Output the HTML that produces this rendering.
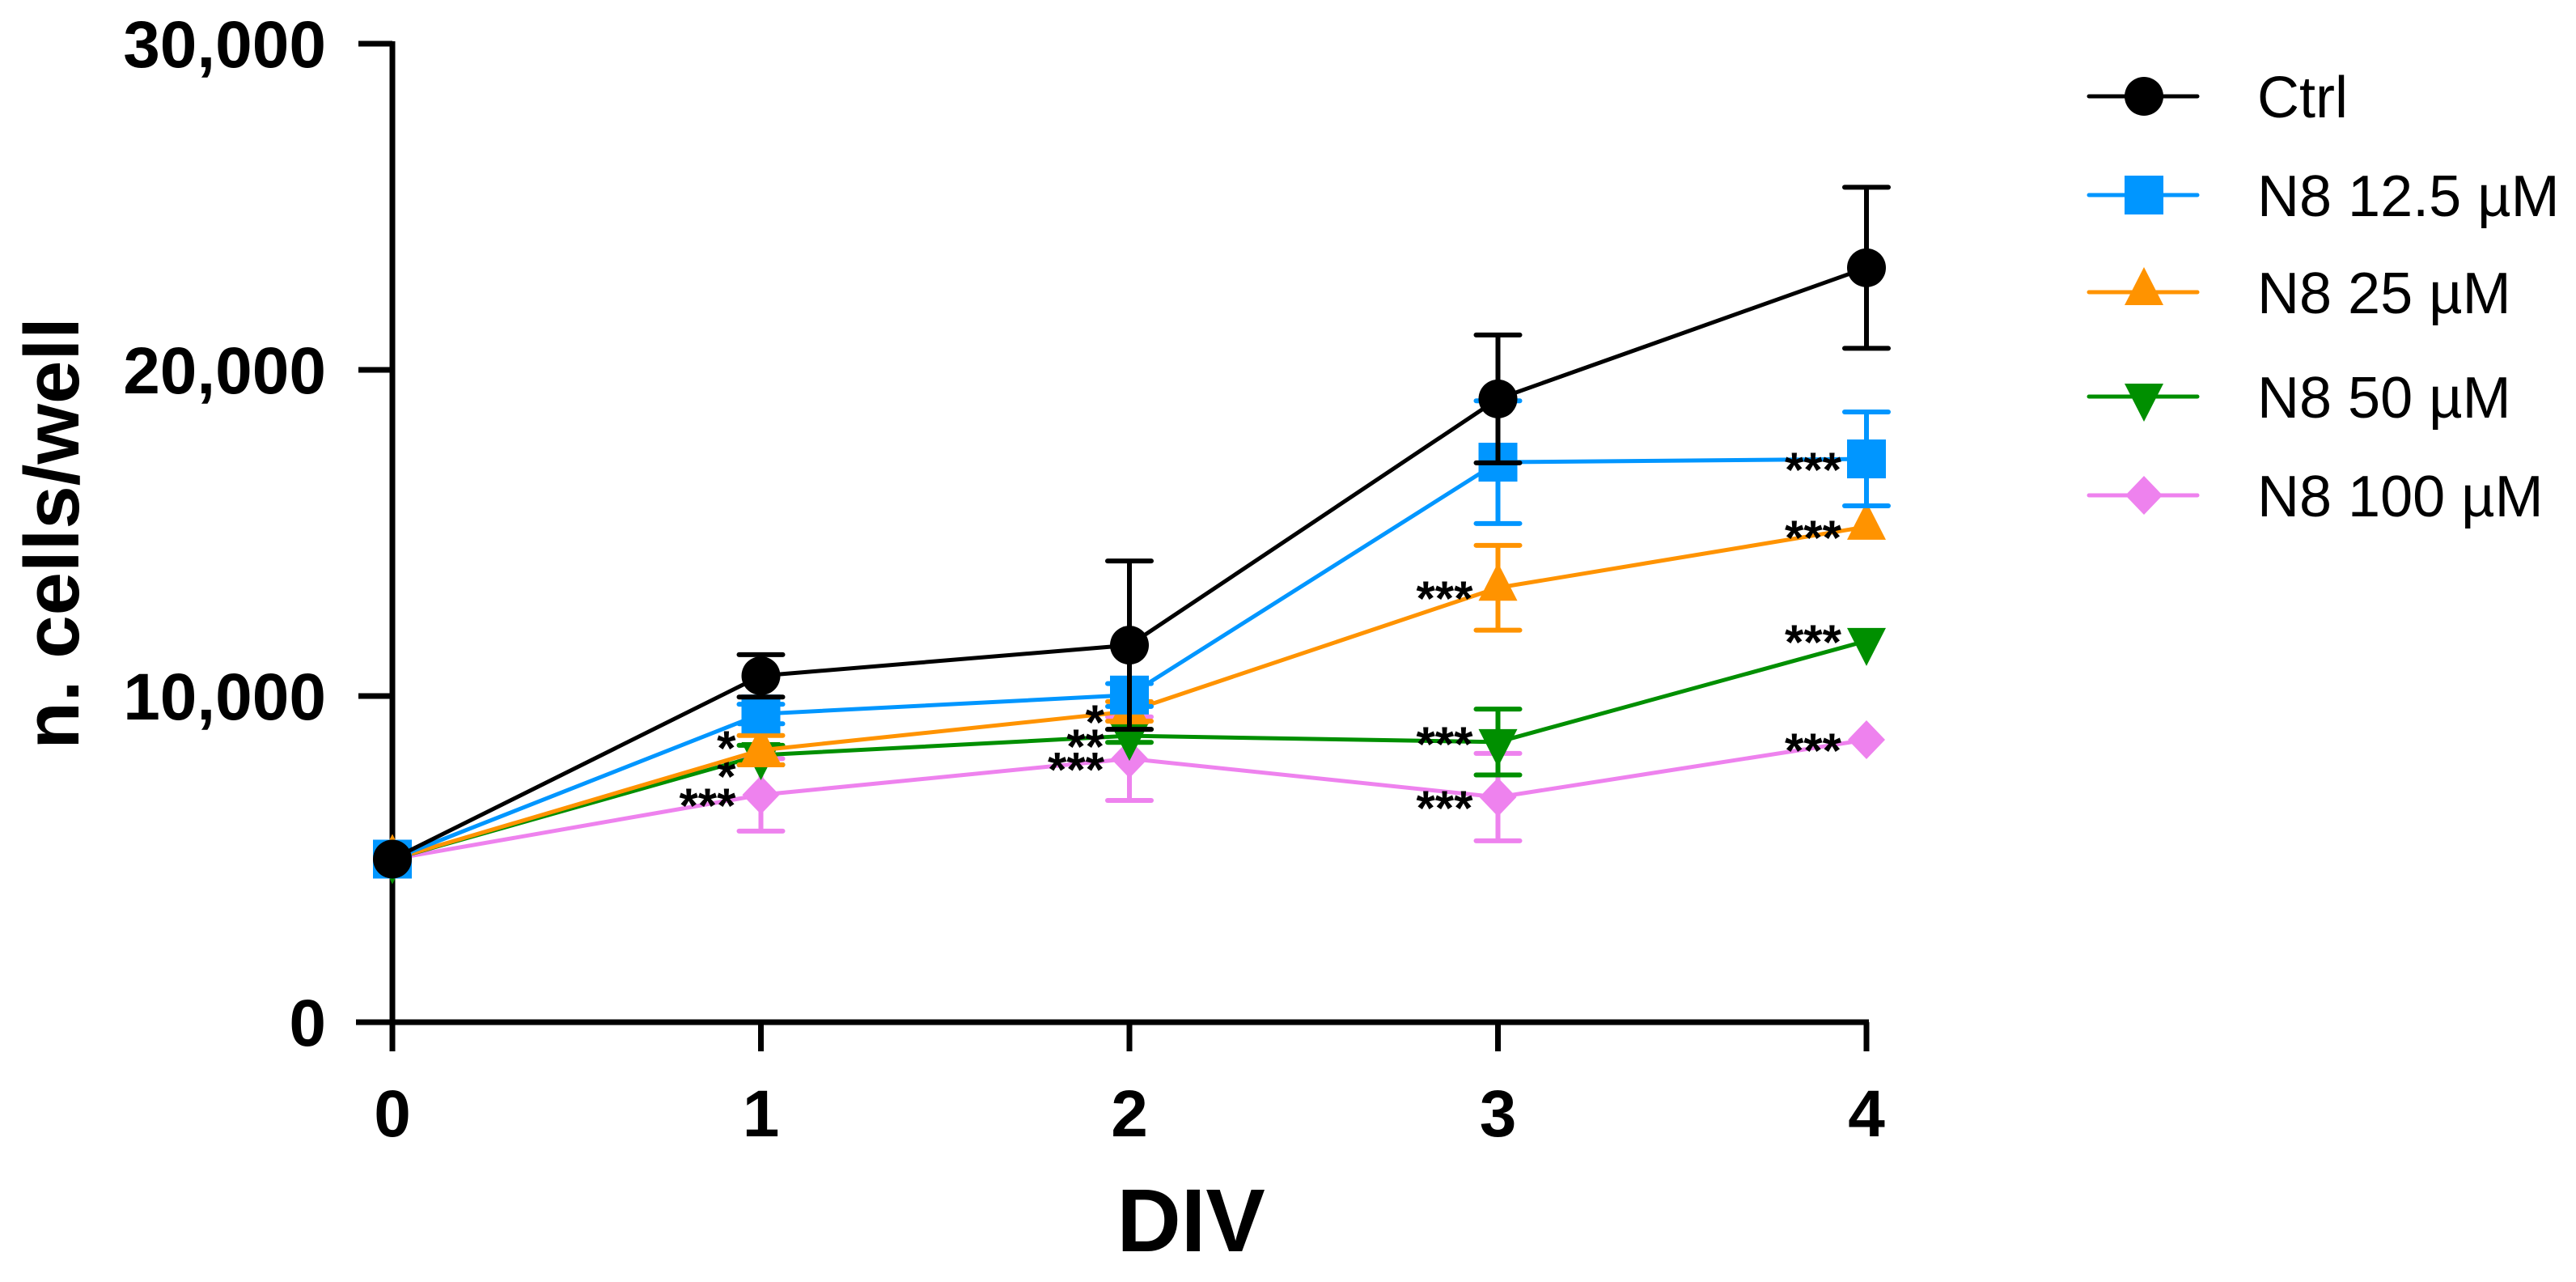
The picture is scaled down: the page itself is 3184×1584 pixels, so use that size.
<!DOCTYPE html>
<html><head><meta charset="utf-8"><style>
html,body{margin:0;padding:0;background:#fff;}
svg{display:block;}
text{font-family:"Liberation Sans",Arial,sans-serif;}
</style></head><body>
<svg id="chart" width="3184" height="1584" viewBox="0 0 3184 1584" xmlns="http://www.w3.org/2000/svg"></svg>
<script>
const days = [0, 1, 2, 3, 4];
const yTicks = [0, 10000, 20000, 30000];
const yTickLabels = ["0", "10,000", "20,000", "30,000"];
const seriesNames = ["Ctrl", "N8 12.5 µM", "N8 25 µM", "N8 50 µM", "N8 100 µM"];
const ctrlVals = [5000, 10620, 11560, 19110, 23130];
const ctrlErr = [0, 650, 2580, 1960, 2470];
const n125Vals = [5000, 9450, 10030, 17170, 17270];
const n125Err = [0, 300, 350, 1880, 1440];
const n25Vals = [5000, 8340, 9530, 13320, 15190];
const n25Err = [0, 450, 300, 1300, 0];
const n50Vals = [5000, 8190, 8780, 8590, 11690];
const n50Err = [0, 300, 200, 1010, 0];
const n100Vals = [5000, 6970, 8080, 6900, 8660];
const n100Err = [0, 1110, 1280, 1340, 0];
const starLabels = [
  ["", "", "", "", ""],
  ["", "", "", "", "***"],
  ["", "*", "*", "***", "***"],
  ["", "*", "**", "***", "***"],
  ["", "***", "***", "***", "***"]
];
const colors = ["#000000", "#0096FF", "#FF9300", "#008F00", "#EE82EE"];
const markers = ["circle", "square", "triangle", "down", "diamond"];

const svg = document.getElementById('chart');
const NS = "http://www.w3.org/2000/svg";
const X0 = 485, DX = 455.5, Y0 = 1263, PER = 403 / 10000;
const starNudge = {"2-1": -16, "3-1": 13, "3-3": -11, "3-4": -12};
function xs(d){ return X0 + d * DX; }
function ys(v){ return Y0 - v * PER; }
function mk(tag, attrs, parent){
  const e = document.createElementNS(NS, tag);
  for (const k in attrs) e.setAttribute(k, attrs[k]);
  (parent || svg).appendChild(e);
  return e;
}
function marker(type, cx, cy, color, g){
  let e;
  if (type === "circle") e = mk("circle", {cx:cx, cy:cy, r:24, fill:color}, g);
  else if (type === "square") e = mk("rect", {x:cx-24, y:cy-24, width:48, height:48, fill:color}, g);
  else if (type === "triangle") e = mk("polygon", {points:`${cx},${cy-31} ${cx+24},${cy+16} ${cx-24},${cy+16}`, fill:color}, g);
  else if (type === "down") e = mk("polygon", {points:`${cx-24},${cy-16} ${cx+24},${cy-16} ${cx},${cy+31}`, fill:color}, g);
  else e = mk("polygon", {points:`${cx},${cy-24} ${cx+23},${cy} ${cx},${cy+24} ${cx-23},${cy}`, fill:color}, g);
  return e;
}

const axes = mk("g", {});


const yAxis = mk("line", {x1:X0, y1:ys(30000)-3, x2:X0, y2:Y0, stroke:"#000", "stroke-width":7}, axes);


const xAxis = mk("line", {x1:X0-45, y1:Y0, x2:xs(4)+3, y2:Y0, stroke:"#000", "stroke-width":7}, axes);


yTicks.forEach((t, i) => {
  const y = ys(t);
  if (t > 0) mk("line", {x1:X0-42, y1:y, x2:X0, y2:y, stroke:"#000", "stroke-width":7}, axes);
  const lab = mk("text", {x:403, y:y+29, "text-anchor":"end", "font-size":82, "font-weight":"bold"}, axes);
  lab.textContent = yTickLabels[i];
  
  
});
days.forEach(d => {
  const x = xs(d);
  mk("line", {x1:x, y1:Y0, x2:x, y2:Y0+36, stroke:"#000", "stroke-width":7}, axes);
  const lab = mk("text", {x:x, y:1404, "text-anchor":"middle", "font-size":82, "font-weight":"bold"}, axes);
  lab.textContent = String(d);
  
  
});
const yTitle = mk("text", {x:0, y:0, transform:"translate(97,659) rotate(-90)", "text-anchor":"middle", "font-size":96, "font-weight":"bold"});
yTitle.textContent = "n. cells/well";


const xTitle = mk("text", {x:1472, y:1546, "text-anchor":"middle", "font-size":110, "font-weight":"bold"});
xTitle.textContent = "DIV";



const allVals = [ctrlVals, n125Vals, n25Vals, n50Vals, n100Vals];
const allErr = [ctrlErr, n125Err, n25Err, n50Err, n100Err];
for (let s = 4; s >= 0; s--) {
  const g = mk("g", {});
  
  
  const vals = allVals[s], err = allErr[s], c = colors[s];
  const pts = days.map((d, i) => xs(d) + "," + ys(vals[i])).join(" ");
  mk("polyline", {points:pts, fill:"none", stroke:c, "stroke-width":5}, g);
  days.forEach((d, i) => {
    if (err[i] > 0) {
      const x = xs(d), yt = ys(vals[i] + err[i]), yb = ys(vals[i] - err[i]);
      mk("line", {x1:x, y1:yt, x2:x, y2:yb, stroke:c, "stroke-width":6}, g);
      mk("line", {x1:x-27, y1:yt, x2:x+27, y2:yt, stroke:c, "stroke-width":6, "stroke-linecap":"round"}, g);
      mk("line", {x1:x-27, y1:yb, x2:x+27, y2:yb, stroke:c, "stroke-width":6, "stroke-linecap":"round"}, g);
    }
    const m = marker(markers[s], xs(d), ys(vals[i]), c, g);
    
    
    const st = starLabels[s][i];
    if (st) {
      const nudge = starNudge[s + "-" + i] || 0;
      const t = mk("text", {x:xs(d)-31, y:ys(vals[i]) + nudge + 34, "text-anchor":"end", "font-size":60, "font-weight":"bold", fill:"#000"}, g);
      t.textContent = st;
      
      
    }
  });
}

const lg = mk("g", {});


const legendRowY = [119, 241, 361, 490, 612];
seriesNames.forEach((n, s) => {
  const y = legendRowY[s];
  const e = mk("g", {}, lg);
  
  
  mk("line", {x1:2582, y1:y, x2:2716, y2:y, stroke:colors[s], "stroke-width":5, "stroke-linecap":"round"}, e);
  marker(markers[s], 2650, y, colors[s], e);
  const t = mk("text", {x:2790, y:y+26, "font-size":72}, e);
  t.textContent = n;
});
</script>
</body></html>
